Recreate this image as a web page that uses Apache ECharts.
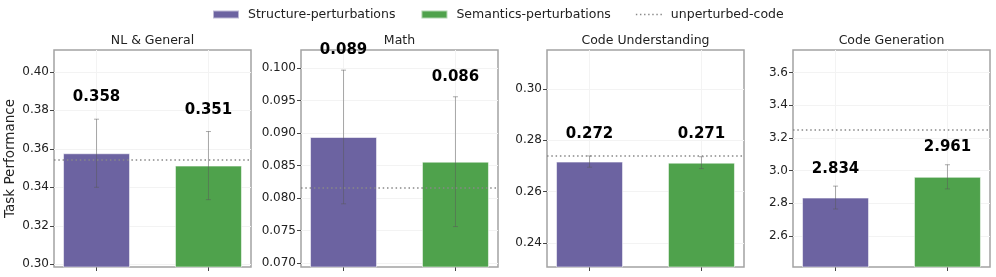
<!DOCTYPE html>
<html><head><meta charset="utf-8">
<script src="https://cdn.jsdelivr.net/npm/echarts@6/dist/echarts.min.js"></script>
<style>html,body{margin:0;padding:0;background:#fff}#c{width:996px;height:277px}</style>
</head><body><div id="c"></div>
<script>
// ---- data ----
const categories = ['NL & General', 'Math', 'Code Understanding', 'Code Generation'];
const seriesNames = ['Structure-perturbations', 'Semantics-perturbations', 'unperturbed-code'];
const structureVals = [0.3577, 0.0894, 0.2717, 2.834];
const structureErr  = [0.0177, 0.0103, 0.0022, 0.070];
const semanticsVals = [0.3513, 0.0856, 0.2713, 2.961];
const semanticsErr  = [0.0177, 0.0100, 0.0023, 0.074];
const baselineVals  = [0.3543, 0.0816, 0.2741, 3.250];
const yTicks0 = [0.30, 0.32, 0.34, 0.36, 0.38, 0.40];
const yTicks1 = [0.070, 0.075, 0.080, 0.085, 0.090, 0.095, 0.100];
const yTicks2 = [0.24, 0.26, 0.28, 0.30];
const yTicks3 = [2.6, 2.8, 3.0, 3.2, 3.4, 3.6];
const yTicks = [yTicks0, yTicks1, yTicks2, yTicks3];
const tickDecimals = [2, 3, 2, 1];
const xPositions = [0, 1];

// ---- styles / layout ----
const FONT = 'DejaVu Sans';
const PURPLE = '#6c63a1', GREEN = '#4fa24c', BASE = '#888888';
const DOTS = [1.5, 2.8];
const gridLefts = [54, 301, 547, 793];
const GW = 197, GT = 50, GH = 217;
const dotIcon = 'path://' + [0, 1, 2, 3, 4, 5, 6].map(k => 'M' + (k * 43) + ',0h15v15h-15z').join(' ');

const grids = [], xAxes = [], yAxes = [], series = [], titles = [];
categories.forEach((cat, i) => {
  const lo = Math.min(structureVals[i], semanticsVals[i], baselineVals[i]) * 0.85;
  const hi = Math.max(structureVals[i], semanticsVals[i], baselineVals[i]) * 1.15;
  grids.push({left: gridLefts[i], top: GT, width: GW, height: GH, show: true,
    borderColor: '#a3a3a3', borderWidth: 1.5, backgroundColor: 'transparent',
    containLabel: false, outerBoundsMode: 'none'});
  titles.push({text: cat, left: gridLefts[i] + GW / 2, top: 34, textAlign: 'center', padding: 0,
    textStyle: {fontSize: 12.5, fontWeight: 'normal', fontFamily: FONT, color: '#222'}});
  xAxes.push({gridIndex: i, type: 'value', min: -0.38, max: 1.38, position: 'bottom',
    axisLine: {show: false, onZero: false}, axisLabel: {show: false},
    axisTick: {show: true, customValues: xPositions, length: 4, lineStyle: {color: '#444', width: 1}},
    splitLine: {show: true, lineStyle: {color: '#f3f3f3', width: 1}}});
  yAxes.push({gridIndex: i, type: 'value', min: lo, max: hi, position: 'left',
    name: i === 0 ? 'Task Performance' : '', nameLocation: 'middle', nameGap: 37,
    nameTextStyle: {fontSize: 13.5, fontFamily: FONT, color: '#222'},
    axisLine: {show: false, onZero: false},
    axisTick: {show: true, customValues: yTicks[i], length: 4, lineStyle: {color: '#444', width: 1}},
    axisLabel: {customValues: yTicks[i], formatter: v => Number(v).toFixed(tickDecimals[i]),
      fontSize: 12, fontFamily: FONT, color: '#222', margin: 5},
    splitLine: {show: true, lineStyle: {color: '#f3f3f3', width: 1}}});
  const common = {xAxisIndex: i, yAxisIndex: i};
  series.push(Object.assign({type: 'bar', name: seriesNames[0], data: [[xPositions[0], structureVals[i]]],
    barWidth: 67, barGap: '-100%', z: 2,
    itemStyle: {color: PURPLE, borderColor: 'rgba(255,255,255,0.55)', borderWidth: 1}}, common));
  series.push(Object.assign({type: 'bar', name: seriesNames[1], data: [[xPositions[1], semanticsVals[i]]],
    barWidth: 67, barGap: '-100%', z: 2,
    itemStyle: {color: GREEN, borderColor: 'rgba(255,255,255,0.55)', borderWidth: 1}}, common));
  series.push(Object.assign({type: 'line', name: seriesNames[2], data: [], symbol: 'none', z: 3,
    color: BASE, itemStyle: {color: BASE},
    lineStyle: {type: DOTS, color: BASE, width: 1.5},
    markLine: {silent: true, symbol: 'none', precision: 8, label: {show: false}, animation: false,
      lineStyle: {type: DOTS, color: BASE, width: 1.5},
      data: [{yAxis: baselineVals[i]}]}}, common));
  series.push(Object.assign({type: 'custom', name: 'err' + i, z: 4, clip: false,
    data: [[xPositions[0], structureVals[i], structureErr[i]], [xPositions[1], semanticsVals[i], semanticsErr[i]]],
    encode: {x: 0, y: 1},
    renderItem: (params, api) => {
      const x = api.value(0), v = api.value(1), e = api.value(2);
      const top = api.coord([x, v + e]), bot = api.coord([x, v - e]);
      const lab = api.coord([x, v + e + 0.022 * v]);
      const st = {stroke: 'rgba(90,90,90,0.5)', lineWidth: 1};
      return {type: 'group', children: [
        {type: 'line', shape: {x1: top[0], y1: top[1], x2: bot[0], y2: bot[1]}, style: st},
        {type: 'line', shape: {x1: top[0] - 2.5, y1: top[1], x2: top[0] + 2.5, y2: top[1]}, style: st},
        {type: 'line', shape: {x1: bot[0] - 2.5, y1: bot[1], x2: bot[0] + 2.5, y2: bot[1]}, style: st},
        {type: 'text', x: lab[0], y: lab[1] - 7, style: {text: v.toFixed(3), fontSize: 15, fontWeight: 'bold',
          fontFamily: FONT, fill: '#000', align: 'center', verticalAlign: 'middle'}}
      ]};
    }}, common));
});

const chart = echarts.init(document.getElementById('c'), null, {renderer: 'canvas'});
chart.setOption({
  animation: false,
  backgroundColor: '#fff',
  title: titles,
  legend: {left: 212, top: 8, padding: 0, itemGap: 25, itemWidth: 26, itemHeight: 8,
    textStyle: {fontSize: 12.5, fontFamily: FONT, color: '#222', padding: [0, 0, 0, 4]},
    data: [{name: seriesNames[0], icon: 'rect'}, {name: seriesNames[1], icon: 'rect'},
           {name: seriesNames[2], icon: dotIcon, itemStyle: {color: BASE}}]},
  grid: grids, xAxis: xAxes, yAxis: yAxes, series: series
});
</script></body></html>
